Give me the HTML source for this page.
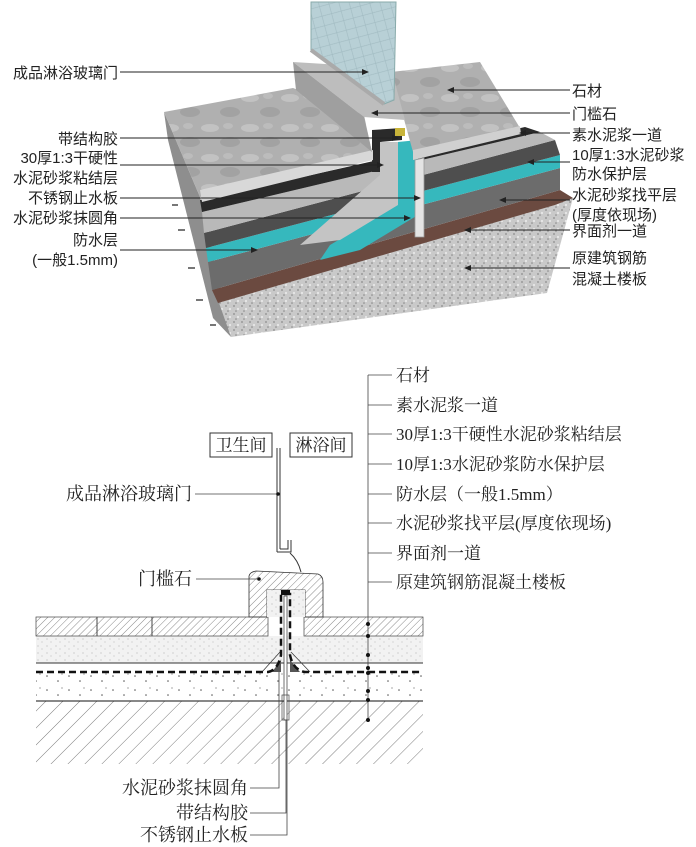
<!DOCTYPE html>
<html><head><meta charset="utf-8"><style>
html,body{margin:0;padding:0;background:#fff;}
svg{display:block}
.t{font-family:"Liberation Sans","Noto Sans CJK SC",sans-serif;font-size:15px;fill:#222;}
.s{font-family:"Liberation Serif","Noto Serif CJK SC",serif;font-size:17px;fill:#222;}
</style></head><body>
<svg width="696" height="847" viewBox="0 0 696 847" xmlns="http://www.w3.org/2000/svg">
<defs>
<pattern id="h1" width="5" height="5" patternUnits="userSpaceOnUse" patternTransform="rotate(45)"><line x1="0" y1="0" x2="0" y2="5" stroke="#555" stroke-width="0.7"/></pattern>
<pattern id="h2" width="12" height="12" patternUnits="userSpaceOnUse" patternTransform="rotate(45)"><line x1="0" y1="0" x2="0" y2="12" stroke="#444" stroke-width="0.7"/></pattern>
<pattern id="sp" width="9" height="7" patternUnits="userSpaceOnUse"><rect width="9" height="7" fill="#f2f2f2"/><circle cx="2" cy="2" r="0.5" fill="#999"/><circle cx="6" cy="5" r="0.5" fill="#aaa"/></pattern>
<pattern id="sp2" width="22" height="14" patternUnits="userSpaceOnUse"><circle cx="3" cy="4" r="0.8" fill="#555"/><circle cx="14" cy="9" r="0.8" fill="#555"/><circle cx="18" cy="2" r="0.6" fill="#666"/></pattern>
<pattern id="con" width="8" height="8" patternUnits="userSpaceOnUse"><rect width="8" height="8" fill="#c9c9c9"/><circle cx="2" cy="2" r="1" fill="#9a9a9a"/><circle cx="6" cy="5" r="1.1" fill="#e8e8e8"/><circle cx="4" cy="7" r="0.8" fill="#888"/></pattern>
<pattern id="mar" width="40" height="30" patternUnits="userSpaceOnUse"><rect width="40" height="30" fill="#b0b0b0"/><ellipse cx="10" cy="8" rx="9" ry="4" fill="#c2c2c2"/><ellipse cx="30" cy="22" rx="10" ry="5" fill="#a2a2a2"/><ellipse cx="28" cy="6" rx="5" ry="3" fill="#bcbcbc"/></pattern>
<pattern id="gl" width="14" height="14" patternUnits="userSpaceOnUse" patternTransform="rotate(30)"><rect width="14" height="14" fill="#b8d0d6"/><path d="M0 0 L14 14 M14 0 L0 14" stroke="#9fb9c0" stroke-width="0.6"/></pattern>
<marker id="ar" markerWidth="7" markerHeight="6" refX="6" refY="3" orient="auto"><path d="M0,0 L7,3 L0,6z" fill="#222"/></marker>
</defs>

<!-- ===== 3D top ===== -->
<polygon points="164,112 200,197 231,337 213,318 168,140" fill="#8e8e8e"/>
<polygon points="218,300 555,205 573,198 547,293 231,337" fill="url(#con)"/>
<polygon points="212,290 560,190 573,198 555,205 218,303" fill="#6b4a40"/>
<polygon points="208,262 560,168 560,190 212,290" fill="#6c6c6c"/>
<polygon points="206,248 560,155 560,168 208,262" fill="#36b8bd"/>
<polygon points="204,233 555,140 560,155 206,248" fill="#4e4e4e"/>
<polygon points="202,212 540,132 555,140 204,233" fill="#b9b9b9"/>
<polygon points="200,200 525,127 540,132 202,212" fill="#2a2a2a"/>
<polygon points="372,130 402,128 402,140 380,142 380,172 372,172" fill="#2a2a2a"/>
<polygon points="398,142 418,140 418,215 360,250 320,260 330,245 398,205" fill="#36b8bd"/>
<polygon points="380,142 398,142 398,205 340,240 300,245 380,175" fill="#c4c4c4"/>
<polygon points="415,160 424,158 424,237 415,237" fill="#e4e4e4" stroke="#999" stroke-width="0.8"/>
<polygon points="395,128 405,128 405,136 395,136" fill="#c8b43a"/>
<polygon points="164,112 293,88 364,115 373,157 200,197" fill="url(#mar)"/>
<polygon points="200,190 373,150 373,160 202,202" fill="#d8d8d8"/>
<polygon points="391,72 480,62 520,128 413,152" fill="url(#mar)"/>
<polygon points="413,150 520,126 521,134 413,160" fill="#d0d0d0"/>
<polygon points="293,62 391,68 405,120 364,117" fill="#bdbdbd"/>
<polygon points="293,62 364,117 372,152 296,90" fill="#9f9f9f"/>
<!-- glass on top -->
<polygon points="311,2 396,2 394,100 384,104 311,50" fill="url(#gl)" stroke="#8aa" stroke-width="1"/>
<line x1="311" y1="50" x2="384" y2="104" stroke="#aaa" stroke-width="4"/>
<g stroke="#777" stroke-width="2"><line x1="172" y1="205" x2="178" y2="205"/><line x1="178" y1="230" x2="185" y2="230"/><line x1="188" y1="268" x2="195" y2="268"/><line x1="196" y1="300" x2="203" y2="300"/><line x1="210" y1="325" x2="216" y2="325"/></g>

<g class="t" text-anchor="end">
<text x="118" y="78">成品淋浴玻璃门</text>
<text x="118" y="144">带结构胶</text>
<text x="118" y="163">30厚1:3干硬性</text>
<text x="118" y="183">水泥砂浆粘结层</text>
<text x="118" y="203">不锈钢止水板</text>
<text x="118" y="223">水泥砂浆抹圆角</text>
<text x="118" y="245">防水层</text>
<text x="118" y="265">(一般1.5mm)</text>
</g>
<g stroke="#222" stroke-width="1" marker-end="url(#ar)">
<line x1="120" y1="72" x2="368" y2="72"/>
<line x1="120" y1="138" x2="398" y2="138"/>
<line x1="120" y1="165" x2="383" y2="165"/>
<line x1="120" y1="198" x2="420" y2="198"/>
<line x1="120" y1="218" x2="410" y2="218"/>
<line x1="120" y1="250" x2="257" y2="250"/>
<line x1="570" y1="90" x2="448" y2="90"/>
<line x1="570" y1="113" x2="372" y2="113"/>
<line x1="570" y1="133" x2="520" y2="133"/>
<line x1="570" y1="162" x2="528" y2="162"/>
<line x1="570" y1="200" x2="500" y2="200"/>
<line x1="570" y1="230" x2="465" y2="230"/>
<line x1="570" y1="268" x2="465" y2="268"/>
</g>
<g class="t">
<text x="572" y="96">石材</text>
<text x="572" y="119">门槛石</text>
<text x="572" y="140">素水泥浆一道</text>
<text x="572" y="160">10厚1:3水泥砂浆</text>
<text x="572" y="179">防水保护层</text>
<text x="572" y="200">水泥砂浆找平层</text>
<text x="572" y="220">(厚度依现场)</text>
<text x="572" y="236">界面剂一道</text>
<text x="572" y="263">原建筑钢筋</text>
<text x="572" y="284">混凝土楼板</text>
</g>

<!-- ===== section bottom ===== -->
<rect x="36" y="701" width="387" height="63" fill="url(#h2)"/>
<rect x="36" y="673" width="387" height="28" fill="url(#sp2)"/>
<rect x="36" y="636" width="387" height="27" fill="url(#sp)"/>
<rect x="36" y="617" width="232" height="19" fill="url(#h1)" stroke="#444" stroke-width="0.7"/>
<rect x="304" y="617" width="119" height="19" fill="url(#h1)" stroke="#444" stroke-width="0.7"/>
<line x1="97" y1="617" x2="97" y2="636" stroke="#444"/>
<line x1="152" y1="617" x2="152" y2="636" stroke="#444"/>
<line x1="36" y1="663" x2="423" y2="663" stroke="#333"/>
<line x1="36" y1="701" x2="423" y2="701" stroke="#111" stroke-width="1"/>
<path d="M249,617 L249,576 Q250,572 256,571 L318,574 Q323,576 323,582 L323,617 L305,617 L305,590 L267,590 L267,617 Z" fill="url(#h1)" stroke="#333" stroke-width="0.8"/>
<rect x="267" y="590" width="38" height="27" fill="url(#sp)"/>
<polygon points="272,672 281,660 281,672" fill="#555"/>
<polygon points="290,660 300,672 290,672" fill="#555"/>
<path d="M262,672 L280,652 M310,672 L291,652" stroke="#333" fill="none" stroke-width="0.7"/>
<path d="M36,672 L268,672 Q278,670 281,655 L281,594 L290,594 L290,655 Q293,670 305,672 L423,672" stroke="#111" stroke-width="2.5" stroke-dasharray="7,4" fill="none"/>
<rect x="281" y="590" width="9" height="5" fill="#111"/>
<rect x="284" y="596" width="3" height="124" fill="#fff" stroke="#333" stroke-width="0.7"/>
<rect x="282" y="695" width="7" height="25" fill="none" stroke="#444" stroke-width="0.7"/>
<line x1="277" y1="448" x2="277" y2="552" stroke="#333"/>
<line x1="280" y1="448" x2="280" y2="549" stroke="#333"/>
<path d="M277,552 L291,552 L291,540 M280,549 L288,549 L288,540" stroke="#333" fill="none"/>
<path d="M290,553 Q298,560 301,572" stroke="#333" fill="none"/>
<rect x="210" y="433" width="62" height="24" fill="#fff" stroke="#333"/>
<rect x="290" y="433" width="62" height="24" fill="#fff" stroke="#333"/>
<text class="s" x="241" y="451" text-anchor="middle" font-size="16">卫生间</text>
<text class="s" x="321" y="451" text-anchor="middle" font-size="16">淋浴间</text>
<g stroke="#444" stroke-width="0.8" fill="none">
<line x1="195" y1="494" x2="278" y2="494"/>
<line x1="196" y1="579" x2="259" y2="579"/>
<polyline points="250,788 279,788 279,672"/>
<polyline points="250,813 286,813 286,720"/>
<polyline points="250,835 287,835 287,720"/>
<line x1="368" y1="375" x2="368" y2="720"/>
<line x1="368" y1="375" x2="392" y2="375"/>
<line x1="368" y1="405" x2="392" y2="405"/>
<line x1="368" y1="434" x2="392" y2="434"/>
<line x1="368" y1="464" x2="392" y2="464"/>
<line x1="368" y1="494" x2="392" y2="494"/>
<line x1="368" y1="523" x2="392" y2="523"/>
<line x1="368" y1="553" x2="392" y2="553"/>
<line x1="368" y1="582" x2="392" y2="582"/>
</g>
<g fill="#111"><circle cx="278" cy="494" r="1.8"/><circle cx="259" cy="579" r="1.8"/>
<circle cx="368" cy="624" r="2"/><circle cx="368" cy="636" r="2"/><circle cx="368" cy="655" r="2"/><circle cx="368" cy="668" r="2"/><circle cx="368" cy="673" r="2"/><circle cx="368" cy="691" r="2"/><circle cx="368" cy="700" r="2"/><circle cx="368" cy="720" r="2"/></g>
<g class="s">
<text x="396" y="381">石材</text>
<text x="396" y="411">素水泥浆一道</text>
<text x="396" y="440">30厚1:3干硬性水泥砂浆粘结层</text>
<text x="396" y="470">10厚1:3水泥砂浆防水保护层</text>
<text x="396" y="500">防水层（一般1.5mm）</text>
<text x="396" y="529">水泥砂浆找平层(厚度依现场)</text>
<text x="396" y="559">界面剂一道</text>
<text x="396" y="588">原建筑钢筋混凝土楼板</text>
</g>
<g class="s" text-anchor="end" font-size="18">
<text x="192" y="500" font-size="18">成品淋浴玻璃门</text>
<text x="192" y="585" font-size="18">门槛石</text>
<text x="248" y="794" font-size="18">水泥砂浆抹圆角</text>
<text x="248" y="819" font-size="18">带结构胶</text>
<text x="248" y="841" font-size="18">不锈钢止水板</text>
</g>
</svg>
</body></html>
